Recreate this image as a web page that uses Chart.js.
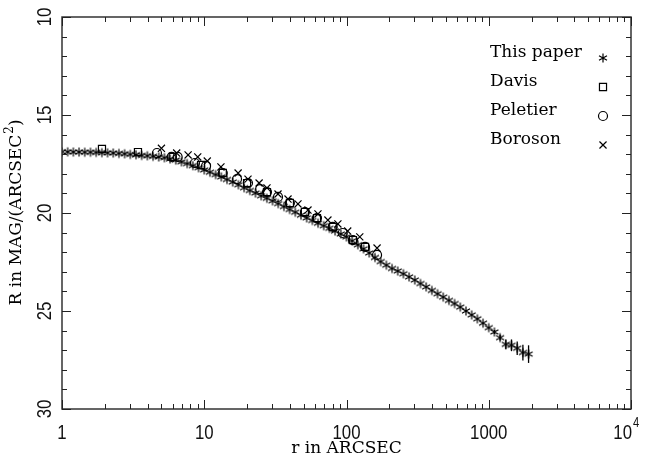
<!DOCTYPE html>
<html lang="en">
<head>
<meta charset="UTF-8">
<title>R profile</title>
<script src="https://cdn.jsdelivr.net/npm/chart.js@4/dist/chart.umd.min.js"></script>
<style>
  body { margin: 0; background: #fff; }
</style>
</head>
<body>
<canvas id="grafico" width="647" height="464"></canvas>
<script>
  // This paper (radio en arcsec, brillo en mag/arcsec^2)
  const radioPaper = [
    1.000, 1.096, 1.202, 1.318, 1.445, 1.585, 1.738, 1.905, 2.089, 2.291,
    2.512, 2.754, 3.020, 3.311, 3.631, 3.981, 4.365, 4.786, 5.248, 5.754,
    6.310, 6.918, 7.586, 8.318, 9.120,
    10.00, 10.96, 12.02, 13.18, 14.45, 15.85, 17.38, 19.05, 20.89, 22.91,
    25.12, 27.54, 30.20, 33.11, 36.31, 39.81, 43.65, 47.86, 52.48, 57.54,
    63.10, 69.18, 75.86, 83.18, 91.20,
    100.0, 109.6, 120.2, 131.8, 144.5, 158.5, 173.8, 190.5, 208.9, 229.1,
    251.2, 275.4, 302.0, 331.1, 363.1, 398.1, 436.5, 478.6, 524.8, 575.4,
    631.0, 691.8, 758.6, 831.8, 912.0,
    1000, 1096, 1202, 1318, 1445, 1585, 1738, 1905
  ];
  const magPaper = [
    16.88, 16.88, 16.89, 16.89, 16.90, 16.90, 16.91, 16.92, 16.93, 16.94,
    16.96, 16.98, 17.01, 17.03, 17.06, 17.08, 17.11, 17.14, 17.18, 17.24,
    17.30, 17.39, 17.48, 17.58, 17.69,
    17.80, 17.92, 18.04, 18.16, 18.29, 18.42, 18.56, 18.71, 18.85, 18.98,
    19.12, 19.25, 19.38, 19.52, 19.67, 19.82, 19.96, 20.11, 20.25, 20.38,
    20.52, 20.65, 20.78, 20.92, 21.07,
    21.22, 21.42, 21.62, 21.83, 22.04, 22.27, 22.48, 22.66, 22.83, 22.96,
    23.10, 23.26, 23.42, 23.60, 23.77, 23.95, 24.12, 24.29, 24.46, 24.62,
    24.80, 25.00, 25.20, 25.40, 25.62,
    25.85, 26.07, 26.36, 26.70, 26.75, 26.90, 27.12, 27.20
  ];
  const errPaper = [
    0, 0, 0, 0, 0, 0, 0, 0, 0, 0, 0, 0, 0, 0, 0, 0, 0, 0, 0, 0, 0, 0, 0, 0, 0,
    0, 0, 0, 0, 0, 0, 0, 0, 0, 0, 0, 0, 0, 0, 0, 0, 0, 0, 0, 0, 0, 0, 0, 0, 0,
    0, 0, 0, 0, 0, 0, 0, 0, 0, 0, 0, 0, 0, 0, 0, 0, 0, 0, 0, 0, 0, 0, 0, 0, 0,
    0, 0.10, 0.15, 0.25, 0.30, 0.35, 0.40, 0.45
  ];

  const radioDavis = [1.91, 3.42, 6.0, 9.5, 13.5, 20.0, 27.6, 40.0, 51.0, 62.0, 80.0, 111, 135];
  const magDavis = [16.73, 16.89, 17.14, 17.55, 17.95, 18.47, 18.93, 19.49, 19.95, 20.26, 20.71, 21.38, 21.73];

  const radioPeletier = [4.65, 5.9, 6.5, 8.6, 10.3, 13.5, 17.0, 20.3, 24.7, 27.6, 33.0, 40.0, 51.0, 62.0, 80.0, 94.0, 111, 135, 164];
  const magPeletier = [16.94, 17.14, 17.14, 17.45, 17.60, 17.96, 18.27, 18.47, 18.78, 18.93, 19.18, 19.49, 19.95, 20.26, 20.71, 21.02, 21.38, 21.73, 22.14];

  const radioBoroson = [5.0, 6.4, 7.7, 9.0, 10.5, 13.1, 17.3, 20.3, 24.3, 27.6, 33.0, 38.8, 45.6, 53.6, 63.0, 74.0, 87.0, 102, 124, 164];
  const magBoroson = [16.70, 16.94, 17.04, 17.14, 17.35, 17.65, 17.96, 18.27, 18.47, 18.72, 19.03, 19.29, 19.54, 19.85, 20.05, 20.36, 20.56, 20.92, 21.22, 21.79];

  const ticksX = [1, 10, 100, 1000, 10000];
  const etiquetasX = ['1', '10', '100', '1000', '10'];
  const ticksY = [10, 15, 20, 25, 30];
  const nombres = ['This paper', 'Davis', 'Peletier', 'Boroson'];

  const serif = '17px "DejaVu Serif"';
  const sans = '21px "Liberation Sans"';

  // asterisco de 6 brazos, como el del dibujo original
  function hacerAsterisco(r) {
    const c = document.createElement('canvas');
    c.width = c.height = 12;
    const g = c.getContext('2d');
    g.strokeStyle = '#000';
    g.lineWidth = 1.2;
    g.beginPath();
    for (let k = 0; k < 3; k++) {
      const a = Math.PI / 2 + k * Math.PI / 3;
      g.moveTo(6 + r * Math.cos(a), 6 + r * Math.sin(a));
      g.lineTo(6 - r * Math.cos(a), 6 - r * Math.sin(a));
    }
    g.stroke();
    return c;
  }
  const asterisco = hacerAsterisco(4.6);

  const puntos = (xs, ys) => xs.map((x, i) => ({ x: x, y: ys[i] }));

  const estilos = [
    { pointStyle: asterisco, radius: 5 },
    { pointStyle: 'rect', radius: 5 },
    { pointStyle: 'circle', radius: 4.5 },
    { pointStyle: 'crossRot', radius: 5 }
  ];

  function textoEstrecho(ctx, txt, x, y, rot, align) {
    ctx.save();
    ctx.translate(x, y);
    ctx.rotate(rot);
    ctx.scale(0.8, 1);
    ctx.textAlign = align || 'center';
    ctx.fillText(txt, 0, 0);
    ctx.restore();
  }

  const marco = {
    id: 'marco',
    afterDatasetsDraw(chart) {
      const ctx = chart.ctx;
      const sx = chart.scales.x, sy = chart.scales.y;

      // barras de error
      ctx.save();
      ctx.strokeStyle = '#000';
      ctx.lineWidth = 1.3;
      errPaper.forEach((e, i) => {
        if (!e) return;
        const px = sx.getPixelForValue(radioPaper[i]);
        ctx.beginPath();
        ctx.moveTo(px, sy.getPixelForValue(magPaper[i] - e));
        ctx.lineTo(px, sy.getPixelForValue(magPaper[i] + e));
        ctx.stroke();
      });
      ctx.restore();
    },
    afterDraw(chart) {
      const ctx = chart.ctx;
      const a = chart.chartArea;
      const sx = chart.scales.x, sy = chart.scales.y;
      ctx.save();
      ctx.strokeStyle = '#333';
      ctx.lineWidth = 1.5;
      ctx.strokeRect(a.left, a.top, a.right - a.left, a.bottom - a.top);

      ctx.lineWidth = 1;
      ctx.strokeStyle = '#222';
      ctx.beginPath();
      // ticks eje x (log)
      for (let d = 1; d < 10000; d *= 10) {
        for (let m = 1; m <= 10; m++) {
          const v = d * m;
          if (v > 10000) break;
          const px = Math.round(sx.getPixelForValue(v)) + 0.5;
          const len = (m === 1 || m === 10) ? 9 : 5;
          ctx.moveTo(px, a.bottom); ctx.lineTo(px, a.bottom - len);
          ctx.moveTo(px, a.top); ctx.lineTo(px, a.top + len);
        }
      }
      // ticks eje y
      for (let v = 10; v <= 30; v++) {
        const py = Math.round(sy.getPixelForValue(v)) + 0.5;
        const len = v % 5 === 0 ? 9 : 5;
        ctx.moveTo(a.left, py); ctx.lineTo(a.left + len, py);
        ctx.moveTo(a.right, py); ctx.lineTo(a.right - len, py);
      }
      ctx.stroke();

      // etiquetas
      ctx.fillStyle = '#111';
      ctx.font = sans;
      ctx.textBaseline = 'middle';
      ticksX.forEach((v, i) => {
        const px = sx.getPixelForValue(v);
        if (v === 10000) {
          textoEstrecho(ctx, etiquetasX[i], px + 1, 433, 0, 'right');
          ctx.font = '14px "Liberation Sans"';
          textoEstrecho(ctx, '4', px + 2, 423, 0, 'left');
          ctx.font = sans;
        } else {
          textoEstrecho(ctx, etiquetasX[i], px, 433, 0);
        }
      });
      ticksY.forEach(v => {
        textoEstrecho(ctx, String(v), 45, sy.getPixelForValue(v), -Math.PI / 2);
      });

      // titulos de ejes
      ctx.font = serif;
      ctx.fillStyle = '#000';
      ctx.textAlign = 'center';
      ctx.fillText('r in ARCSEC', (a.left + a.right) / 2, 449);

      const t1 = 'R in MAG/(ARCSEC', t2 = '2', t3 = ')';
      const w1 = ctx.measureText(t1).width, w3 = ctx.measureText(t3).width;
      ctx.font = '12px "DejaVu Serif"';
      const w2 = ctx.measureText(t2).width;
      const total = w1 + w2 + w3;
      ctx.save();
      ctx.translate(17, (a.top + a.bottom) / 2);
      ctx.rotate(-Math.PI / 2);
      ctx.textAlign = 'left';
      ctx.font = serif;
      ctx.fillText(t1, -total / 2, 0);
      ctx.font = '12px "DejaVu Serif"';
      ctx.fillText(t2, -total / 2 + w1 + 1, -7);
      ctx.font = serif;
      ctx.fillText(t3, -total / 2 + w1 + w2 + 1, 0);
      ctx.restore();

      // leyenda
      ctx.textAlign = 'left';
      ctx.textBaseline = 'alphabetic';
      const baseY = [57, 86, 115, 144];
      nombres.forEach((n, i) => {
        ctx.fillStyle = '#000';
        ctx.font = serif;
        ctx.fillText(n, 490, baseY[i]);
        ctx.strokeStyle = '#000';
        ctx.fillStyle = 'rgba(0,0,0,0)';
        ctx.lineWidth = 1.2;
        Chart.helpers.drawPoint(ctx, { pointStyle: estilos[i].pointStyle, radius: estilos[i].radius, borderWidth: 1.2, rotation: 0 }, 603, baseY[i] + 1);
      });
      ctx.restore();
    }
  };

  const grafico = new Chart(document.getElementById('grafico').getContext('2d'), {
    type: 'scatter',
    data: {
      datasets: [
        { label: nombres[0], data: puntos(radioPaper, magPaper) },
        { label: nombres[1], data: puntos(radioDavis, magDavis) },
        { label: nombres[2], data: puntos(radioPeletier, magPeletier) },
        { label: nombres[3], data: puntos(radioBoroson, magBoroson) }
      ].map((d, i) => Object.assign(d, {
        pointStyle: estilos[i].pointStyle,
        pointRadius: estilos[i].radius,
        pointBorderWidth: 1.2,
        pointBorderColor: '#000',
        pointBackgroundColor: 'rgba(0,0,0,0)',
        showLine: false
      }))
    },
    options: {
      responsive: false,
      animation: false,
      layout: { padding: { left: 62, right: 16, top: 17, bottom: 55 } },
      plugins: { legend: { display: false }, tooltip: { enabled: false } },
      scales: {
        x: { type: 'logarithmic', min: 1, max: 10000, display: false },
        y: { type: 'linear', min: 10, max: 30, reverse: true, display: false }
      }
    },
    plugins: [marco]
  });
</script>
</body>
</html>
